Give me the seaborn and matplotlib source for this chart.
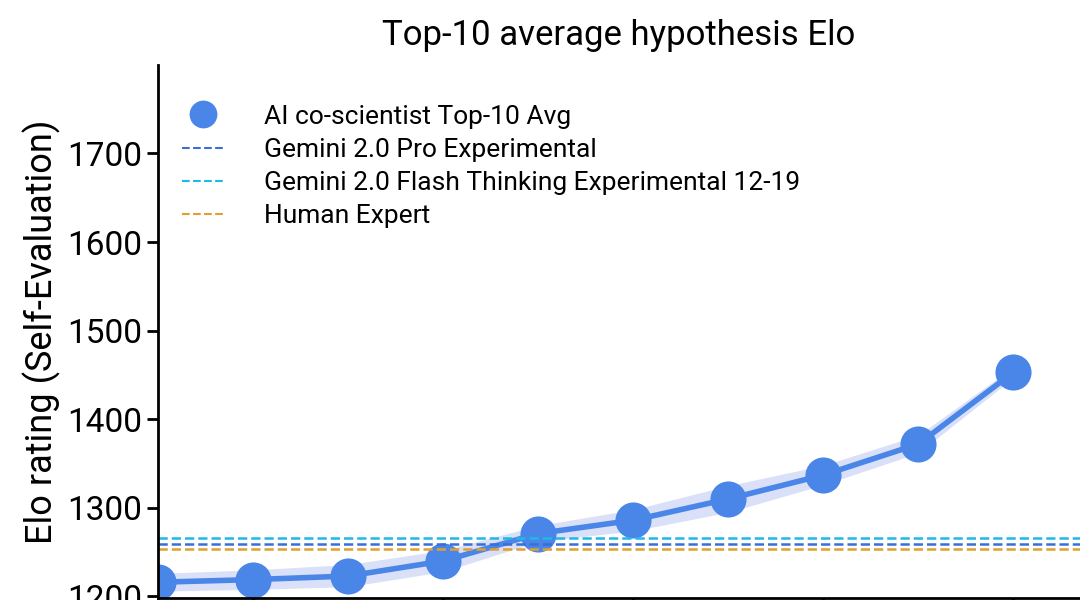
import matplotlib
matplotlib.use("Agg")
import matplotlib.pyplot as plt
from matplotlib.lines import Line2D
import seaborn as sns

iterations = [1, 2, 3, 4, 5, 6, 7, 8, 9, 10]
top10_avg = [1216, 1219, 1223, 1240, 1271, 1286, 1310, 1337, 1372, 1453]
band_lo = [1206, 1208, 1211, 1228, 1262, 1274, 1295, 1326, 1362, 1447]
band_hi = [1226, 1230, 1236, 1252, 1280, 1298, 1325, 1348, 1382, 1459]
baselines = {"Gemini 2.0 Pro Experimental": (1259, "#3b6fd6"),
             "Gemini 2.0 Flash Thinking Experimental 12-19": (1266, "#1fb8e8"),
             "Human Expert": (1254, "#e0a030")}

sns.set_style("ticks")
plt.rcParams['font.family'] = ['Roboto', 'DejaVu Sans']
plt.rcParams['text.color'] = 'black'
plt.rcParams['axes.labelcolor'] = 'black'
plt.rcParams['ytick.color'] = 'black'
plt.rcParams['xtick.color'] = 'black'
fig = plt.figure(figsize=(10.8, 6), dpi=100)
ax = fig.add_axes([158/1080, 0.003, 1 - 158/1080, 0.889])
ax.fill_between(iterations, band_lo, band_hi, color="#c9d3f5", alpha=0.7, lw=0)
sns.lineplot(x=iterations, y=top10_avg, ax=ax, color="#4a86e8", lw=4,
             marker="o", markersize=26, markeredgewidth=0, legend=False)
handles = [Line2D([], [], ls="none", marker="o", markersize=20, color="#4a86e8",
                  markeredgewidth=0, label="AI co-scientist Top-10 Avg")]
for name, (v, c) in baselines.items():
    ax.axhline(v, ls="--", color=c, lw=1.8)
    handles.append(Line2D([], [], ls="--", color=c, lw=1.5, label=name))
ax.set_xlim(1, 10.7)
ax.set_ylim(1198, 1800)
ax.set_yticks([1200, 1300, 1400, 1500, 1600, 1700])
ax.set_xticks([2, 4, 6, 8, 10])
ax.set_xticklabels([])
ax.tick_params(axis='both', labelsize=24, width=2, length=8, colors='black')
ax.set_ylabel("Elo rating (Self-Evaluation)", fontsize=26)
ax.set_title("Top-10 average hypothesis Elo", fontsize=25, pad=14)
for s in ["top", "right"]:
    ax.spines[s].set_visible(False)
for s in ["left", "bottom"]:
    ax.spines[s].set_linewidth(2)
    ax.spines[s].set_color('black')
ax.legend(handles=handles, loc="upper left", frameon=False, fontsize=19,
          bbox_to_anchor=(0.0, 0.97), handlelength=1.6, labelspacing=0.35,
          handletextpad=1.5)
fig.savefig("out.png", dpi=100)
